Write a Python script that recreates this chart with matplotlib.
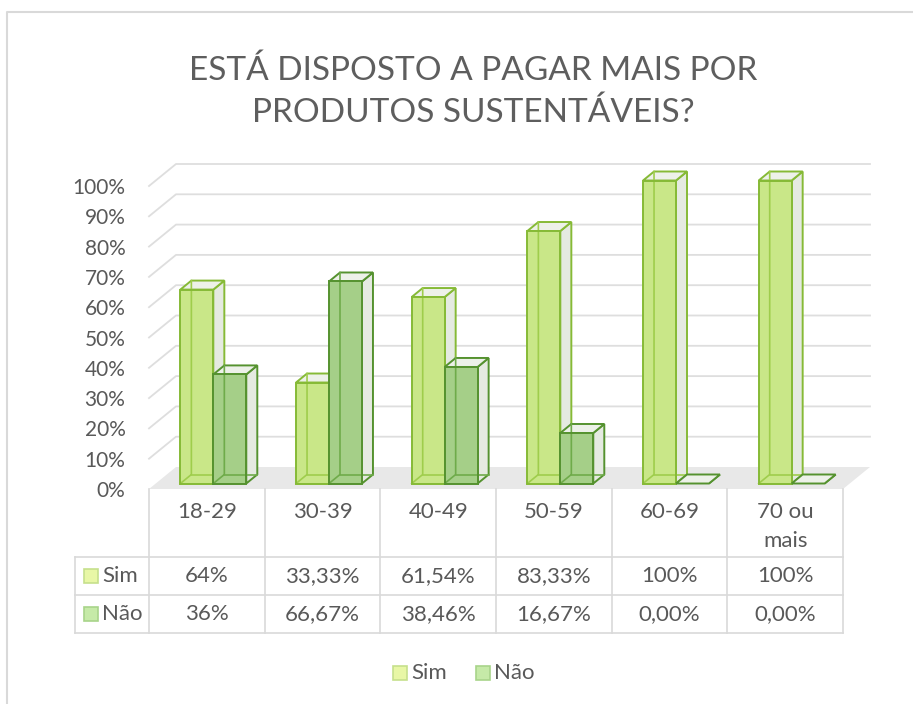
import numpy as np
import matplotlib.pyplot as plt
import matplotlib.transforms as mtransforms
from matplotlib.patches import Polygon, Rectangle
from matplotlib.lines import Line2D

plt.rcParams['font.family'] = ['Lato', 'DejaVu Sans']

categories = ["18-29", "30-39", "40-49", "50-59", "60-69", "70 ou\nmais"]
sim = [64, 33.33, 61.54, 83.33, 100, 100]
nao = [36, 66.67, 38.46, 16.67, 0, 0]
sim_labels = ["64%", "33,33%", "61,54%", "83,33%", "100%", "100%"]
nao_labels = ["36%", "66,67%", "38,46%", "16,67%", "0,00%", "0,00%"]
series = ["Sim", "Não"]
yticks = np.arange(0, 101, 10)

W, H, DPI = 913, 704, 100
fig = plt.figure(figsize=(W / DPI, H / DPI), dpi=DPI)

def fx(px):
    return px / W

def fy(py):
    return 1 - py / H

txt_c = "#595959"
fs = 16

# front plane of the 3d box
ax = fig.add_axes([fx(149), fy(489), fx(843) - fx(149), fy(186) - fy(489)])
ax.set_xlim(-0.5, len(categories) - 0.5)
ax.set_ylim(0, 100)
for s in ax.spines.values():
    s.set_visible(False)
ax.set_xticks([])
ax.set_yticks(yticks)
ax.set_yticklabels(["%d%%" % v for v in yticks])
ax.tick_params(axis="y", length=0, pad=17, labelsize=15, labelcolor=txt_c)
ax.patch.set_alpha(0)

# pixel -> data unit factors
p0 = ax.transData.transform((0, 0))
p1 = ax.transData.transform((1, 1))
ux, uy = p1[0] - p0[0], p1[1] - p0[1]

wall_dx, wall_dy = 27 / ux, 22 / uy
bar_dx, bar_dy = 6.5 / ux, 5.5 / uy
dep_dx, dep_dy = 11 / ux, 9 / uy

grid_c = "#dedede"
x_left, x_right = -0.5, len(categories) - 0.5

# floor
ax.add_patch(Polygon([(x_left, 0), (x_right, 0), (x_right + wall_dx, wall_dy),
                      (x_left + wall_dx, wall_dy)], closed=True,
                     facecolor="#e8e8e8", edgecolor="none", clip_on=False, zorder=1))
# back wall and side wall gridlines
for v in yticks[1:]:
    ax.add_line(Line2D([x_left, x_left + wall_dx, x_right + wall_dx],
                       [v, v + wall_dy, v + wall_dy], color=grid_c, lw=1.3,
                       clip_on=False, zorder=1))

styles = {
    "Sim": dict(face="#c9e788", edge="#86ba36", inner="#9fcd4c", key="#e8f7a6", keyedge="#c6e08c"),
    "Não": dict(face="#a5cf88", edge="#55922f", inner="#6fab4a", key="#c6eaa8", keyedge="#a8d48a"),
}
side_face = "#e5eae1"
top_face = "#edf1e9"

width = 0.285
x = np.arange(len(categories))


def draw_box(x0, y0, w, h, st, z):
    ex, ey = dep_dx, dep_dy
    kw = dict(clip_on=False)
    ax.add_patch(Polygon([(x0 + w, y0), (x0 + w + ex, y0 + ey),
                          (x0 + w + ex, y0 + h + ey), (x0 + w, y0 + h)], closed=True,
                         facecolor=side_face, edgecolor=st["edge"], lw=1.4, zorder=z, **kw))
    ax.add_patch(Polygon([(x0, y0 + h), (x0 + w, y0 + h), (x0 + w + ex, y0 + h + ey),
                          (x0 + ex, y0 + h + ey)], closed=True,
                         facecolor=top_face, edgecolor=st["edge"], lw=1.4, zorder=z, **kw))
    if h > 0:
        # back edges seen through the front face
        ax.add_line(Line2D([x0, x0 + ex, x0 + ex], [y0, y0 + ey, y0 + ey + h],
                           color=st["inner"], lw=1.2, zorder=z + 0.55, **kw))
        ax.add_line(Line2D([x0 + ex, x0 + w + ex], [y0 + ey, y0 + ey],
                           color=st["inner"], lw=1.2, zorder=z + 0.55, **kw))


for i in range(len(categories)):
    for k, (name, vals) in enumerate(zip(series, [sim, nao])):
        st = styles[name]
        z = 3 + i * 2 + k
        bars = ax.bar(x[i] + (k - 0.5) * width + bar_dx, vals[i], width, bottom=bar_dy,
                      color=st["face"], edgecolor="none", zorder=z + 0.5, clip_on=False)
        r = bars[0]
        draw_box(r.get_x(), r.get_y(), r.get_width(), r.get_height(), st, z)
        if vals[i] > 0:
            ax.add_patch(Rectangle((r.get_x(), r.get_y()), r.get_width(), r.get_height(),
                                   facecolor="none", edgecolor=st["edge"], lw=1.4,
                                   clip_on=False, zorder=z + 0.6))
        else:
            r.set_visible(False)

# data table
tc = "#d9d9d9"
tlw = 1.2
trans = mtransforms.blended_transform_factory(ax.transData, fig.transFigure)
edges = np.arange(len(categories) + 1) - 0.5
for e in edges:
    fig.add_artist(Line2D([e, e], [fy(489), fy(633)], color=tc, lw=tlw, transform=trans))
for py in [557, 595, 633]:
    fig.add_artist(Line2D([fx(75), fx(843)], [fy(py), fy(py)], color=tc, lw=tlw))
fig.add_artist(Line2D([fx(75), fx(75)], [fy(557), fy(633)], color=tc, lw=tlw))

for i, c in enumerate(categories):
    ax.text(i, fy(502), c, transform=trans, ha="center", va="top", fontsize=fs,
            color=txt_c, linespacing=1.55)
    ax.text(i, fy(576), sim_labels[i], transform=trans, ha="center", va="center",
            fontsize=fs, color=txt_c)
    ax.text(i, fy(614), nao_labels[i], transform=trans, ha="center", va="center",
            fontsize=fs, color=txt_c)

for name, py in zip(series, [576, 614]):
    st = styles[name]
    fig.add_artist(Rectangle((fx(84), fy(py + 7)), fx(14), fy(0) - fy(14), facecolor=st["key"],
                             edgecolor=st["keyedge"], lw=1.2))
    fig.text(fx(102), fy(py), name, ha="left", va="center", fontsize=fs, color=txt_c)

# legend
for name, kx in zip(series, [393, 476]):
    st = styles[name]
    fig.add_artist(Rectangle((fx(kx), fy(680)), fx(14), fy(0) - fy(14), facecolor=st["key"],
                             edgecolor=st["keyedge"], lw=1.2))
    fig.text(fx(kx + 18), fy(673), name, ha="left", va="center", fontsize=fs, color=txt_c)

# title
fig.text(fx(473), fy(92), "ESTÁ DISPOSTO A PAGAR MAIS POR\nPRODUTOS SUSTENTÁVEIS?",
         ha="center", va="center", fontsize=24, color="#5e5e5e", linespacing=1.45)

# chart border
fig.add_artist(Line2D([fx(7), fx(7), fx(913)], [fy(704), fy(12), fy(12)], color="#d9d9d9", lw=1.5))

fig.savefig("out.png", dpi=DPI)
